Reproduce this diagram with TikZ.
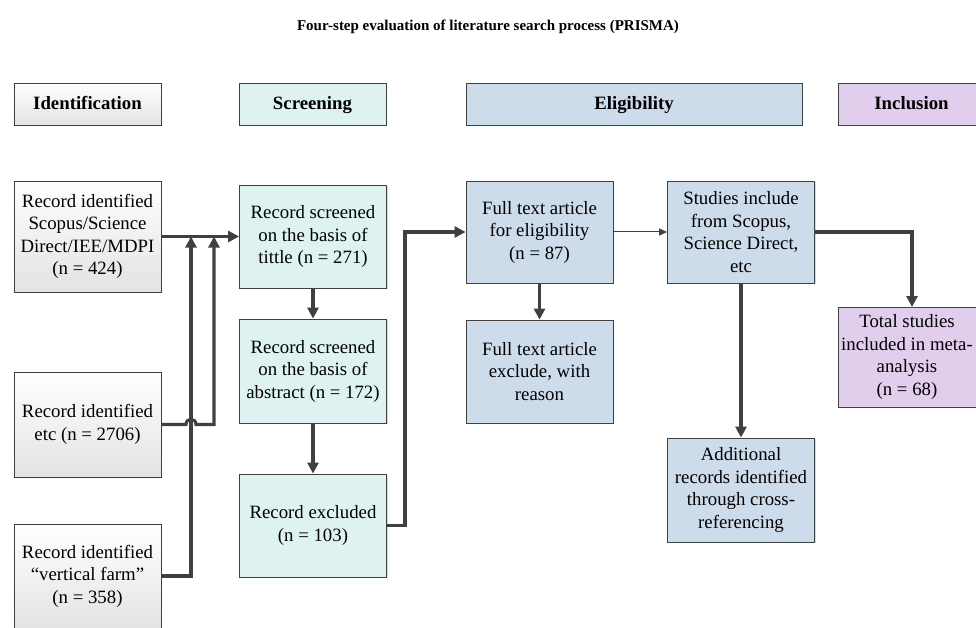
\documentclass[tikz,border=0pt]{standalone}
\usepackage{fontspec}
\setmainfont{Liberation Serif}
\usetikzlibrary{arrows.meta,shadows}
\definecolor{scr}{RGB}{222,242,242}
\definecolor{eli}{RGB}{205,220,234}
\definecolor{inc}{RGB}{224,206,236}
\definecolor{ln}{RGB}{64,64,64}
\begin{document}
\begin{tikzpicture}[x=1pt,y=-1pt,
 box/.style={draw=ln, line width=0.8pt, inner sep=0pt, align=center,
   font=\fontsize{18.8}{22.5}\selectfont, minimum width=147pt,
   drop shadow={shadow xshift=1.2pt, shadow yshift=-1.2pt, opacity=0.3}},
 idb/.style={box, top color=white, bottom color=black!11},
 scb/.style={box, fill=scr},
 elb/.style={box, fill=eli},
 inb/.style={box, fill=inc},
 hdr/.style={font=\bfseries\fontsize{18.8}{22.5}\selectfont, minimum height=42pt, text height=12pt, text depth=0pt},
 conn/.style={draw=ln, line width=3.1pt, -{Triangle[length=11pt,width=11pt]}},
 thinconn/.style={draw=ln, line width=1pt, -{Triangle[length=8pt,width=7pt]}}
]
\useasboundingbox (0,0) rectangle (976,628);

\node[font=\bfseries\fontsize{15}{18}\selectfont] (title) at (488,27) {Four-step evaluation of literature search process (PRISMA)};

\node[idb,hdr] (h1) at (87.5,104) {Identification};
\node[scb,hdr] (h2) at (312.5,104) {Screening};
\node[elb,hdr,minimum width=336pt] (h3) at (634,104) {Eligibility};
\node[inb,hdr] (h4) at (911.5,104) {Inclusion};

\node[idb,minimum height=111pt] (b1) at (87.5,236.5) {Record identified\\Scopus/Science\\Direct/IEE/MDPI\\(n = 424)};
\node[idb,minimum height=105pt] (b2) at (87.5,424.5) {Record identified\\etc (n = 2706)};
\node[idb,minimum height=104pt] (b3) at (87.5,576) {Record identified\\“vertical farm”\\(n = 358)};

\node[scb,minimum height=103pt] (s1) at (313,236.5) {Record screened\\on the basis of\\tittle (n = 271)};
\node[scb,minimum height=104pt] (s2) at (313,371) {Record screened\\on the basis of\\abstract (n = 172)};
\node[scb,minimum height=103pt] (s3) at (313,525.5) {Record excluded\\(n = 103)};

\node[elb,minimum height=102pt] (e1) at (539.5,232) {Full text article\\for eligibility\\(n = 87)};
\node[elb,minimum height=103pt] (e2) at (539.5,371.5) {Full text article\\exclude, with\\reason};
\node[elb,minimum height=102pt] (e3) at (741,232) {Studies include\\from Scopus,\\Science Direct,\\etc};
\node[elb,minimum height=104pt] (ad) at (741,490) {Additional\\records identified\\through cross-\\referencing};
\node[inb,minimum height=100pt,minimum width=138pt] (tot) at (907,357) {Total studies\\included in meta-\\analysis\\(n = 68)};

\coordinate (j1) at (191,236.5);
\coordinate (j2) at (214,236.5);
\coordinate (hl) at (186,424.5);
\coordinate (hr) at (196,424.5);
\coordinate (k) at (405,525.5);
\coordinate (tn) at (912,307);

\draw[conn] (b1.east) -- (s1.west);
\draw[conn] (b3.east) -| (j1);
\draw[conn] (b2.east) -- (hl) .. controls +(0,-7) and +(0,-7) .. (hr) -| (j2);
\draw[conn] (s1) -- (s2);
\draw[conn] (s2) -- (s3);
\draw[conn] (s3.east) -- (k) |- (e1.west);
\draw[conn] (e1) -- (e2);
\draw[thinconn] (e1) -- (e3);
\draw[conn] (e3) -- (ad);
\draw[conn] (e3.east) -| (tn);
\end{tikzpicture}
\end{document}
